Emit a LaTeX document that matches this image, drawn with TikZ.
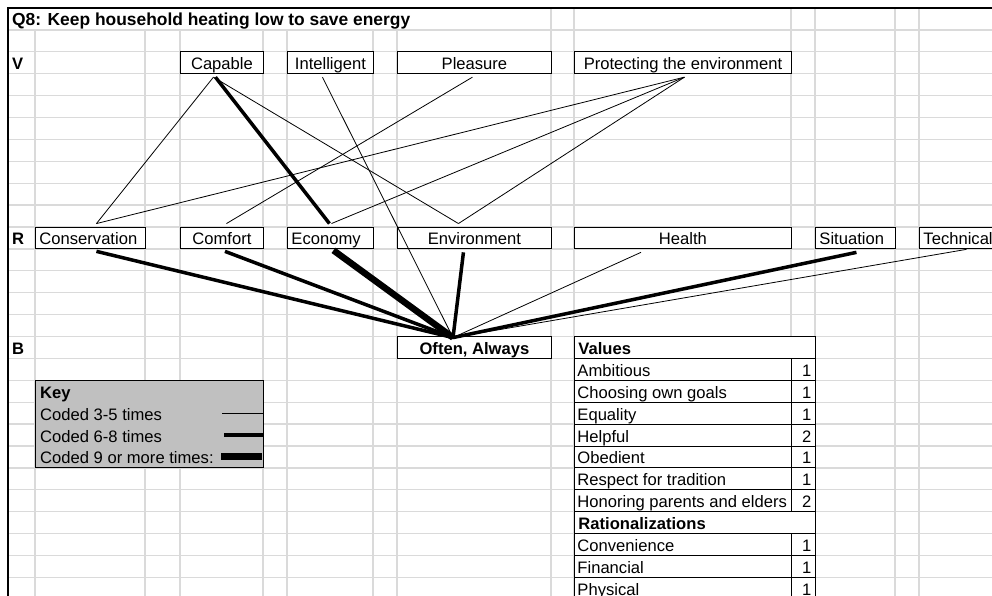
\documentclass[tikz,border=0pt]{standalone}
\usepackage{fontspec}
\setmainfont{Liberation Sans}
\usetikzlibrary{positioning}

\definecolor{gridgray}{RGB}{218,218,218}
\definecolor{keygray}{RGB}{192,192,192}
\newcommand{\cellfont}{\fontsize{16.6}{18}\selectfont}

\begin{document}
\begin{tikzpicture}[
    x=1pt, y=-21.9pt,
    every node/.style={font=\cellfont},
    gridline/.style={draw=gridgray, line width=1.3pt},
    sheetcell/.style={draw, fill=white, line width=0.9pt, inner xsep=4pt, inner ysep=0pt,
                      minimum height=21.9pt, text height=14pt, text depth=0pt, anchor=west},
    lcell/.style={sheetcell, text width=#1, align=left},
    rowcell/.style={sheetcell, inner xsep=3pt},
    celltext/.style={inner sep=0pt, text height=14pt, text depth=0pt, anchor=west},
    thinlink/.style={line width=0.8pt},
    thicklink/.style={line width=3.5pt},
    heavylink/.style={line width=6.5pt}
]

\clip (0pt,0pt) rectangle (992pt,-595pt);
\fill[white] (0pt,0pt) rectangle (992pt,-595pt);

\begin{scope}[yshift=-8pt]

% === Sheet grid ===
\foreach \k in {1,...,27}
    \draw[gridline] (8,\k) -- (992,\k);
\foreach \x in {35,145,180,263,287,373,397,551,574,791,815,895,919}
    \draw[gridline] (\x,1) -- (\x,27.5);
\foreach \x in {551,574,791,815,895,919}
    \draw[gridline] (\x,0) -- (\x,1);
\draw[line width=2pt] (8,27.5) -- (8,0) -- (992,0);

% Title and row labels
\node[celltext, font=\fontsize{17.4}{19}\selectfont\bfseries] (title) at (12,0.5) {Q8: Keep household heating low to save energy};
\node[celltext, font=\cellfont\bfseries] (rowv) at (12,2.5) {V};
\node[celltext, font=\cellfont\bfseries] (rowr) at (12,10.5) {R};
\node[celltext, font=\cellfont\bfseries] (rowb) at (12,15.5) {B};

% === V row ===
\node[sheetcell, minimum width=83pt] (capable) at (180,2.5) {Capable};
\node[sheetcell, minimum width=86pt] (intelligent) at (287,2.5) {Intelligent};
\node[sheetcell, minimum width=154pt] (pleasure) at (397,2.5) {Pleasure};
\node[sheetcell, minimum width=217pt] (protect) at (574,2.5) {Protecting the environment};

% === R row ===
\node[lcell=102pt] (conservation) at (35,10.5) {Conservation};
\node[sheetcell, minimum width=83pt] (comfort) at (180,10.5) {Comfort};
\node[lcell=78pt] (economy) at (287,10.5) {Economy};
\node[sheetcell, minimum width=154pt] (environment) at (397,10.5) {Environment};
\node[sheetcell, minimum width=217pt] (health) at (574,10.5) {Health};
\node[lcell=72pt] (situation) at (815,10.5) {Situation};
\node[lcell=76pt] (technical) at (919,10.5) {Technical};

% === B row ===
\node[sheetcell, minimum width=154pt, font=\cellfont\bfseries] (often) at (397,15.5) {Often, Always};
\coordinate (hub) at (453,15.05);

% === Key ===
\node[draw, fill=keygray, line width=0.9pt, minimum width=228pt, minimum height=87.6pt,
      inner sep=0pt] (key) at (149,19) {};
\node[celltext, font=\cellfont\bfseries] (keyhead) at (40,17.5) {Key};
\node[celltext] (key1) at (40,18.5) {Coded 3-5 times};
\node[celltext] (key2) at (40,19.5) {Coded 6-8 times};
\node[celltext] (key3) at (40,20.5) {Coded 9 or more times:};
\draw[thinlink] (222,18.5) -- (263,18.5);
\draw[line width=4pt] (224,19.5) -- (263,19.5);
\draw[line width=7pt] (221,20.5) -- (262,20.5);

% === Counts table ===
\node[lcell=233pt, font=\cellfont\bfseries] (values) at (574,15.5) {Values};
\foreach \name/\num [count=\i from 16] in {Ambitious/1, Choosing own goals/1, Equality/1,
        Helpful/2, Obedient/1, Respect for tradition/1, Honoring parents and elders/2} {
    \node[rowcell] (val\i) at (574,\i+0.5) {\makebox[211pt][l]{\name}};
    \node[lcell=16pt, align=right] (valn\i) at (791,\i+0.5) {\num};
}
\node[lcell=233pt, font=\cellfont\bfseries] (rational) at (574,23.5) {Rationalizations};
\foreach \name/\num [count=\i from 24] in {Convenience/1, Financial/1, Physical/1} {
    \node[rowcell] (rat\i) at (574,\i+0.5) {\makebox[211pt][l]{\name}};
    \node[lcell=16pt, align=right] (ratn\i) at (791,\i+0.5) {\num};
}

% === V to R links ===
\draw[thinlink] ([xshift=-8.5pt,yshift=-3pt]capable.south) -- ([xshift=6pt,yshift=3pt]conservation.north);
\draw[thicklink] ([xshift=-6.5pt,yshift=-3pt]capable.south) -- ([xshift=-1pt,yshift=3pt]economy.north);
\draw[thinlink] ([xshift=-8.5pt,yshift=-3pt]capable.south) -- ([xshift=-16pt,yshift=3pt]environment.north);
\draw[thinlink] ([xshift=-2pt,yshift=-3pt]pleasure.south) -- ([xshift=4.5pt,yshift=3pt]comfort.north);
\draw[thinlink] ([xshift=1.5pt,yshift=-3pt]protect.south) -- ([xshift=6pt,yshift=3pt]conservation.north);
\draw[thinlink] ([xshift=1.5pt,yshift=-3pt]protect.south) -- ([xshift=1pt,yshift=3pt]economy.north);
\draw[thinlink] ([xshift=1.5pt,yshift=-3pt]protect.south) -- ([xshift=-16pt,yshift=3pt]environment.north);

% === Links to behaviour ===
\draw[thinlink] ([xshift=-8pt,yshift=-3pt]intelligent.south) -- (hub);
\draw[thicklink] ([xshift=6pt,yshift=-2pt]conservation.south) -- (hub);
\draw[thicklink] ([xshift=3pt,yshift=-2pt]comfort.south) -- (hub);
\draw[heavylink] ([xshift=3pt,yshift=-1pt]economy.south) -- (hub);
\draw[thicklink] ([xshift=-11pt,yshift=-3pt]environment.south) -- (hub);
\draw[thinlink] ([xshift=-42pt,yshift=-3pt]health.south) -- (hub);
\draw[thicklink] ([xshift=1pt,yshift=-3pt]situation.south) -- (hub);
\draw[thinlink] ([xshift=5pt]technical.south) -- (hub);

\end{scope}
\end{tikzpicture}
\end{document}
